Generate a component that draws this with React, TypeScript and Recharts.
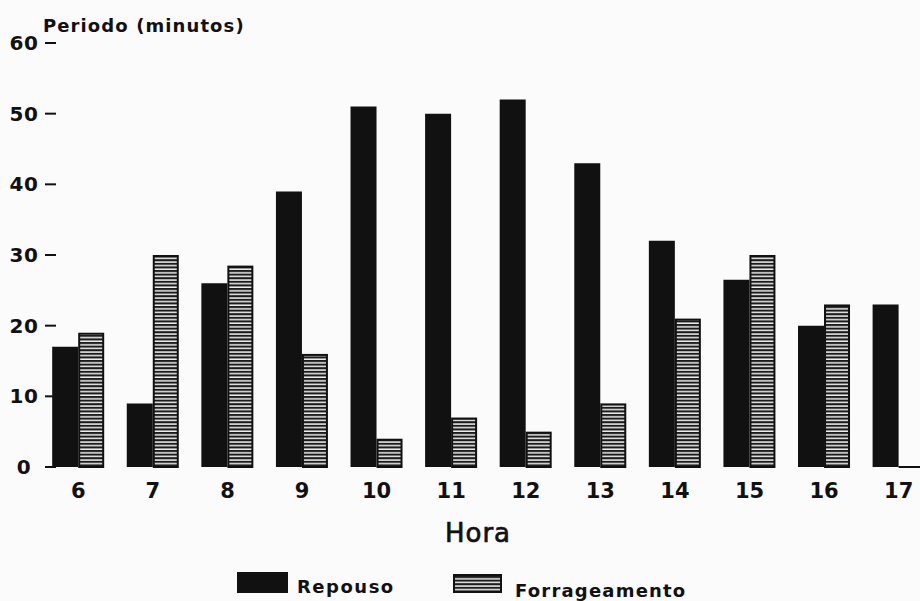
import React from 'react';
import { BarChart, Bar, XAxis, YAxis, Label } from 'recharts';

const hours = ['6', '7', '8', '9', '10', '11', '12', '13', '14', '15', '16', '17'];
const repouso = [17, 9, 26, 39, 51, 50, 52, 43, 32, 26.5, 20, 23];
const forrageamento = [19, 30, 28.5, 16, 4, 7, 5, 9, 21, 30, 23, 0];
const yTicks = [0, 10, 20, 30, 40, 50, 60];
const seriesNames = ['Repouso', 'Forrageamento'];
const yTitle = 'Periodo (minutos)';
const xTitle = 'Hora';

const data = hours.map((h, i) => ({ hour: h, repouso: repouso[i], forrageamento: forrageamento[i] }));

const FONT = '"DejaVu Sans", "Liberation Sans", sans-serif';
const INK = '#111';

const YTick = (props: any) => {
  const { y, payload } = props;
  return (
    <g>
      <text x={24} y={y} dy="0.35em" textAnchor="middle" fontFamily={FONT} fontWeight="bold" fontSize={20} letterSpacing={0.5} fill={INK}>
        {payload.value}
      </text>
      <line x1={45} x2={56} y1={y} y2={y} stroke={INK} strokeWidth={2} />
    </g>
  );
};

const XTick = (props: any) => {
  const { x, y, payload } = props;
  return (
    <text x={x} y={y + 31} textAnchor="middle" fontFamily={FONT} fontWeight="bold" fontSize={21} fill={INK}>
      {payload.value}
    </text>
  );
};

const StripedBar = (props: any) => {
  const { x, y, width, height } = props;
  if (!height || height < 0.5) {
    return <line x1={x} x2={x + width} y1={y + (height || 0)} y2={y + (height || 0)} stroke={INK} strokeWidth={2} />;
  }
  return (
    <rect x={x + 1} y={y + 1} width={width - 2} height={height - 1} fill="url(#stripes)" stroke={INK} strokeWidth={2} />
  );
};

export default function App() {
  return (
    <div style={{ position: 'absolute', left: 0, top: 0, width: 920, height: 601, overflow: 'hidden', background: '#fbfbfb' }}>
      <BarChart
        width={936}
        height={601}
        data={data}
        margin={{ top: 43, right: 0, bottom: 0, left: 0 }}
        barCategoryGap="15%"
        barGap={0}
      >
        <defs>
          <pattern id="stripes" patternUnits="userSpaceOnUse" width={8} height={3.6}>
            <rect width={8} height={3.6} fill="#f0f0f0" />
            <rect width={8} height={2.1} fill="#1c1c1c" />
          </pattern>
        </defs>
        <XAxis
          dataKey="hour"
          axisLine={false}
          tickLine={false}
          tickSize={0}
          tickMargin={0}
          height={134}
          interval={0}
          tick={<XTick />}
        >
          <Label
            content={() => (
              <text x={478} y={542} textAnchor="middle" fontFamily={FONT} fontSize={26} stroke={INK} strokeWidth={0.7} letterSpacing={1} fill={INK}>
                {xTitle}
              </text>
            )}
          />
        </XAxis>
        <YAxis
          width={41}
          domain={[0, 60]}
          ticks={yTicks}
          interval={0}
          axisLine={false}
          tickLine={false}
          tickSize={0}
          tickMargin={0}
          tick={<YTick />}
        >
          <Label
            content={() => (
              <text x={43} y={32} fontFamily={FONT} fontWeight="bold" fontSize={18} letterSpacing={1.1} fill={INK}>
                {yTitle}
              </text>
            )}
          />
        </YAxis>
        <Bar dataKey="repouso" name={seriesNames[0]} fill={INK} isAnimationActive={false} />
        <Bar dataKey="forrageamento" name={seriesNames[1]} shape={<StripedBar />} isAnimationActive={false} />
      </BarChart>
      <svg width={920} height={601} style={{ position: 'absolute', left: 0, top: 0, pointerEvents: 'none' }}>
        <rect x={237} y={572} width={51} height={21} fill={INK} />
        <text x={297} y={593} fontFamily={FONT} fontWeight="bold" fontSize={18} letterSpacing={1.5} fill={INK}>
          {seriesNames[0]}
        </text>
        <rect x={454} y={575} width={47} height={17} fill="url(#stripes)" stroke={INK} strokeWidth={2} />
        <text x={515} y={597} fontFamily={FONT} fontWeight="bold" fontSize={18} letterSpacing={1.2} fill={INK}>
          {seriesNames[1]}
        </text>
      </svg>
    </div>
  );
}
